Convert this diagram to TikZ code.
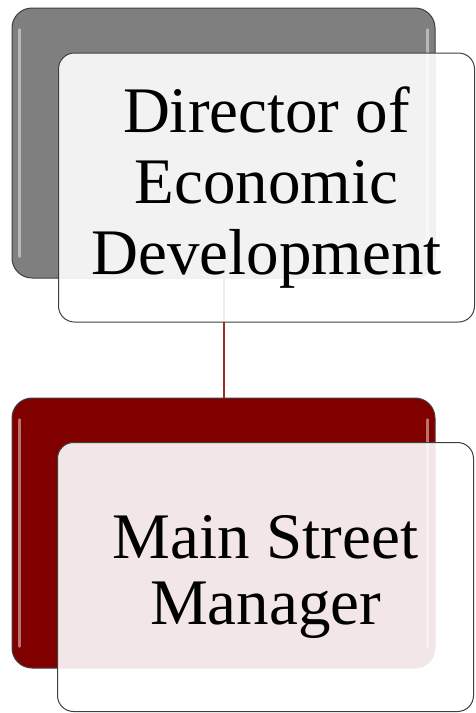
\documentclass[tikz,border=0pt]{standalone}
\usepackage{fontspec}
\setmainfont{Liberation Serif}
\usepackage{tikz}
\definecolor{backgray}{HTML}{7F7F7F}
\definecolor{backred}{HTML}{800000}
\definecolor{linkred}{HTML}{A3262A}
\definecolor{edgegray}{HTML}{3F3F3F}
\tikzset{
  backbox/.style={draw=edgegray, line width=1pt, rounded corners=20pt,
    minimum width=423pt, minimum height=270pt, inner sep=0pt},
  frontbox/.style={draw=edgegray, line width=1pt, rounded corners=16pt,
    fill=white, fill opacity=0.9, text opacity=1,
    minimum width=416pt, minimum height=269pt, inner sep=0pt,
    align=center, font=\fontsize{65}{71}\selectfont},
  gloss/.style={white, opacity=0.45, line width=2.5pt, line cap=round},
  link/.style={draw=linkred, line width=2pt}
}
\begin{document}
\begin{tikzpicture}[x=1pt, y=-1pt]
\useasboundingbox (0,0) rectangle (475,713);
% back plates
\node[backbox, fill=backgray] (dirback) at (223.5,143) {};
\node[backbox, fill=backred] (mgrback) at (223.5,533) {};
% highlights
\foreach \n in {dirback,mgrback} {
  \draw[gloss] ([xshift=8pt,yshift=-22pt]\n.north west) -- ([xshift=8pt,yshift=22pt]\n.south west);
  \draw[gloss] ([xshift=-8pt,yshift=-22pt]\n.north east) -- ([xshift=-8pt,yshift=22pt]\n.south east);
}
% connector
\draw[link] (dirback.south) -- (mgrback.north);
% front cards
\node[frontbox] (director) at (266.5,187.5) {Director of\\Economic\\Development};
\node[frontbox, font=\fontsize{65}{66}\selectfont] (manager) at (265.5,577) {Main Street\\Manager};
\end{tikzpicture}
\end{document}
